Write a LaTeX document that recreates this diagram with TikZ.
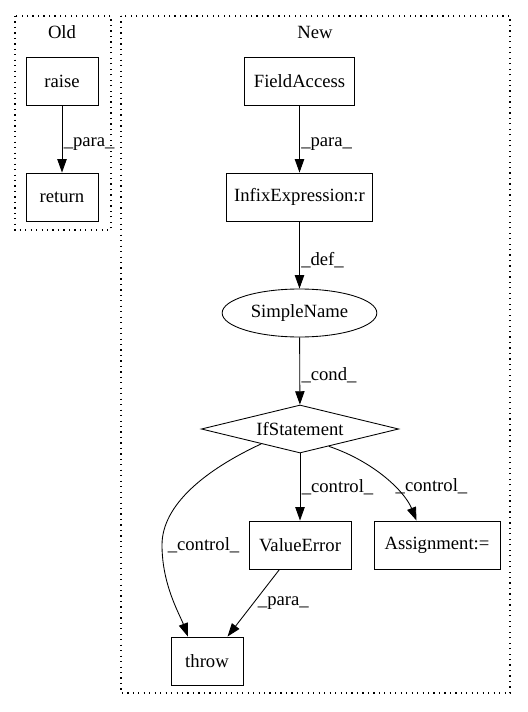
\documentclass[tikz,border=0pt]{standalone}
\usepackage{fontspec}
\setmainfont{Liberation Serif}
\usetikzlibrary{arrows.meta,shapes.geometric}

\begin{document}
\begin{tikzpicture}[x=0.75pt, y=-0.75pt, >={Triangle[length=10pt,width=7pt]},
  font=\fontsize{14}{16}\selectfont, line width=0.65pt]
\tikzstyle{box}=[draw, rectangle, minimum height=36pt, inner sep=0pt]
\tikzstyle{lbl}=[right, inner sep=1pt]
\tikzstyle{cluster}=[draw, line width=0.9pt, dash pattern=on 0.9pt off 3.2pt]
\useasboundingbox (0,0) rectangle (527,712);

% clusters
\draw[cluster] (15,16) rectangle (111,230);
\draw[cluster] (121,16) rectangle (510,693);
\node (old) at (62,32) {Old};
\node (new) at (315,32) {New};

\node[box, minimum width=54pt] (raise) at (62,81) {raise};
\node[box, minimum width=54pt] (ret) at (62,197) {return};

\node[box, minimum width=83pt] (FA) at (299.5,81) {FieldAccess};
\node[box, minimum width=110pt] (IE) at (299.5,197) {InfixExpression:r};
\node[draw, ellipse, minimum width=116pt, minimum height=36pt, inner sep=0pt] (SN) at (299.5,313) {SimpleName};
\node[draw, diamond, aspect=4.1, minimum width=148pt, minimum height=36pt, inner sep=0pt] (IF) at (300,429) {IfStatement};

\node[box, minimum width=76.5pt] (VE) at (300,545) {ValueError};
\node[box, minimum width=94.5pt] (AS) at (437,545) {Assignment:=};
\node[box, minimum width=54pt] (TH) at (207,661) {throw};

\draw[->] (raise) edge node[lbl, pos=0.58]{\_para\_} (ret);
\draw[->] (FA) edge node[lbl, pos=0.58]{\_para\_} (IE);
\draw[->] (IE) edge node[lbl, pos=0.58]{\_def\_} (SN);
\draw[->] (SN) edge node[lbl, pos=0.56]{\_cond\_} (IF);
\draw[->] (IF) edge node[lbl]{\_control\_} (VE);
\draw[->] (IF.-31) .. controls (375,462) and (405,492) .. (AS.130) node[lbl, pos=0.6]{\_control\_};
\draw[->] (IF.201) .. controls (205,470) and (162,505) .. (162,545) node[lbl, right=3pt]{\_control\_}
  .. controls (162,585) and (180,615) .. (TH.128);
\draw[->] (VE.230) -- node[lbl, right=2pt]{\_para\_} (TH.50);
\end{tikzpicture}
\end{document}
